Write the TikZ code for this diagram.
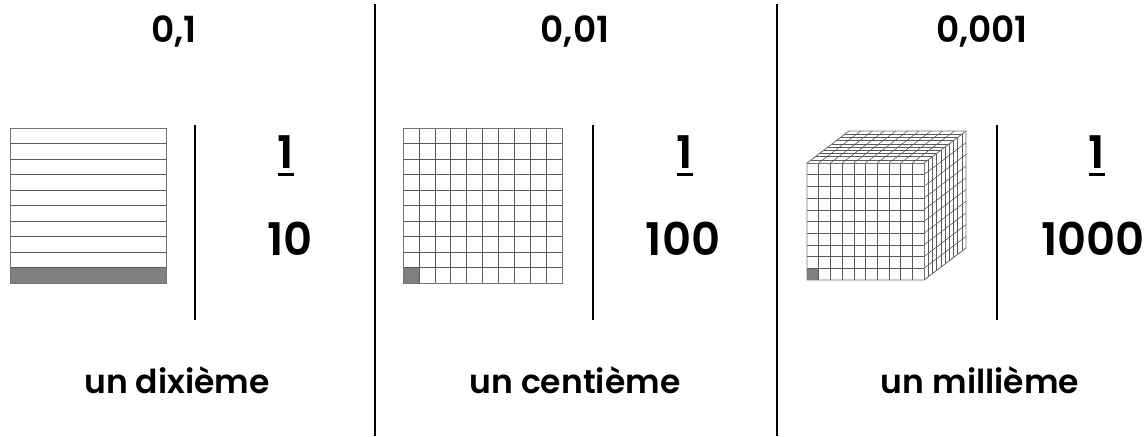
\documentclass[tikz,border=0pt]{standalone}
\usepackage{fontspec}
\setmainfont{Poppins}[BoldFont={Poppins SemiBold}]
\begin{document}
\begin{tikzpicture}[x=1pt,y=-1pt,
  sep/.style={line width=1.6pt},
  gridline/.style={black!65,line width=0.6pt},
  frame/.style={black!55,line width=0.9pt},
  title/.style={font=\fontsize{36}{40}\selectfont\bfseries,anchor=base,inner sep=0pt},
  frac/.style={font=\fontsize{45}{50}\selectfont\bfseries,anchor=base,inner sep=0pt},
  label/.style={font=\fontsize{33}{38}\selectfont\bfseries,anchor=base,inner sep=0pt},
  unit/.style={fill=black!50}]
\useasboundingbox (0,0) rectangle (1147,436);
% separators
\coordinate (s1t) at (375,4); \coordinate (s1b) at (375,436);
\coordinate (s2t) at (777,4); \coordinate (s2b) at (777,436);
\draw[sep] (s1t) -- (s1b);
\draw[sep] (s2t) -- (s2b);
\coordinate (i1t) at (195,125); \coordinate (i1b) at (195,320);
\coordinate (i2t) at (593,125); \coordinate (i2b) at (593,320);
\coordinate (i3t) at (997,125); \coordinate (i3b) at (997,320);
\draw[sep] (i1t) -- (i1b);
\draw[sep] (i2t) -- (i2b);
\draw[sep] (i3t) -- (i3b);
% titles
\node[title] (t1) at (174,43) {0,1};
\node[title] (t2) at (575,43) {0,01};
\node[title] (t3) at (982,43) {0,001};
% fractions
\node[frac] (n1) at (286,168) {1};
\node[frac] (d1) at (290,255) {10};
\node[frac] (n2) at (685,168) {1};
\node[frac] (d2) at (683,255) {100};
\node[frac] (n3) at (1097,168) {1};
\node[frac] (d3) at (1093,255) {1000};
\foreach \n in {n1,n2,n3}
  \draw[line width=2.6pt] ([yshift=-6.5pt]\n.base west) -- ([yshift=-6.5pt]\n.base east);
% labels
\node[label] (l1) at (177,393) {un dixième};
\node[label] (l2) at (575,393) {un centième};
\node[label] (l3) at (980,393) {un millième};
% tenth: strips
\fill[unit] (10,267.5) rectangle (166,283);
\foreach \i in {1,...,9}
  \draw[gridline] (10,128+\i*15.5) -- (166,128+\i*15.5);
\draw[frame] (10,128) rectangle (166,283);
% hundredth: grid
\fill[unit] (403,267.5) rectangle (418.9,283);
\foreach \i in {1,...,9}{
  \draw[gridline] (403,128+\i*15.5) -- (562,128+\i*15.5);
  \draw[gridline] (403+\i*15.9,128) -- (403+\i*15.9,283);
}
\draw[frame] (403,128) rectangle (562,283);
% thousandth: cube
\fill[white] (807,163) -- (849,131) -- (966,131) -- (966,248) -- (924,280) -- (807,280) -- cycle;
\fill[unit] (807,268.3) rectangle (818.7,280);
\foreach \i in {1,...,9}{
  % front face
  \draw[gridline] (807+\i*11.7,163) -- (807+\i*11.7,280);
  \draw[gridline] (807,163+\i*11.7) -- (924,163+\i*11.7);
  % top face
  \draw[gridline] (807+\i*11.7,163) -- (849+\i*11.7,131);
  \draw[gridline] (807+\i*4.2,163-\i*3.2) -- (924+\i*4.2,163-\i*3.2);
  % right face
  \draw[gridline] (924+\i*4.2,163-\i*3.2) -- (924+\i*4.2,280-\i*3.2);
  \draw[gridline] (924,163+\i*11.7) -- (966,131+\i*11.7);
}
\draw[frame,line join=round] (807,163) -- (849,131) -- (966,131) -- (966,248) -- (924,280) -- (807,280) -- cycle;
\draw[frame] (807,163) -- (924,163) -- (924,280);
\draw[frame] (924,163) -- (966,131);
\end{tikzpicture}
\end{document}
